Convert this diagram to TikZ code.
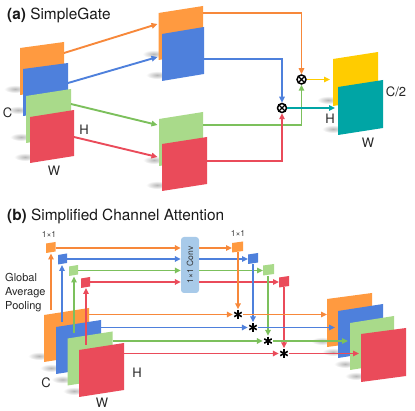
\documentclass[tikz,border=0pt]{standalone}
\usepackage{fontspec}
\setmainfont{TeX Gyre Heros}
\usetikzlibrary{arrows.meta,calc}
\definecolor{cOr}{HTML}{FF9A40}
\definecolor{cOrL}{HTML}{F7883A}
\definecolor{cBl}{HTML}{4E80DC}
\definecolor{cGr}{HTML}{A9DA8A}
\definecolor{cGrL}{HTML}{7CC05C}
\definecolor{cRd}{HTML}{EA4B5A}
\definecolor{cYe}{HTML}{FFCC00}
\definecolor{cTe}{HTML}{00A5A5}
\definecolor{cCv}{HTML}{A8CAE9}
\newcommand\SHd[6]{\shade[inner color=black!28,outer color=white] (#1-5,#2+#4-6) ellipse [x radius=11pt,y radius=4pt];}
\newcommand\FPl[6]{\fill[#6] (#1,#2) -- ++(#3,-#5) -- ++(0,#4) -- ++(-#3,#5) -- cycle;}
\newcommand\allplanes{%
 \PLx{20}{48}{44}{47}{6}{cOr}
 \PLx{23}{69}{45}{47}{6}{cBl}
 \PLx{26}{96}{45}{47}{7}{cGr}
 \PLx{30}{117}{44}{46}{7}{cRd}
 \PLx{158.5}{13}{44.5}{47}{7}{cOr}
 \PLx{162}{34}{42}{47}{7}{cBl}
 \PLx{159}{119}{44}{47}{7}{cGr}
 \PLx{162}{144}{45}{47}{7}{cRd}
 \PLx{333}{59}{45}{47}{7}{cYe}
 \PLx{338}{87}{45}{48}{7}{cTe}
 \PLx{44}{315}{45}{47}{7}{cOr}
 \PLx{56}{327}{45}{47}{7}{cBl}
 \PLx{67.5}{338.5}{45}{47}{7}{cGr}
 \PLx{79}{350}{45}{47}{7}{cRd}
 \PLx{327}{299}{45}{48}{6}{cOr}
 \PLx{338}{311}{45}{47}{7}{cBl}
 \PLx{350}{323}{44}{47}{7}{cGr}
 \PLx{361}{334}{45}{48}{6}{cRd}
}
\begin{document}
\begin{tikzpicture}[x=1pt,y=-1pt,
  ln/.style={line width=1.9pt},
  ar/.style={ln,-{Triangle[length=6pt,width=5.5pt]}},
  lab/.style={font=\fontsize{13}{15}\selectfont,text=black!85,inner sep=0pt},
  ttl/.style={font=\fontsize{15.4}{18}\selectfont,anchor=base west,inner sep=0pt,text=black!90},
  small/.style={font=\fontsize{8.5}{10}\selectfont,text=black!75,inner sep=0pt},
  gap/.style={font=\fontsize{11}{13}\selectfont,anchor=base west,inner sep=0pt,text=black!85},
  mul/.style={circle,draw=black,line width=1.5pt,minimum size=9pt,inner sep=0pt,fill=white,
    path picture={\draw[line width=1.3pt] (path picture bounding box.north west)--(path picture bounding box.south east)
      (path picture bounding box.north east)--(path picture bounding box.south west);}},
  ast/.style={circle,minimum size=10pt,inner sep=0pt,
    path picture={\foreach \a in {90,30,150}{\draw[line width=1.6pt,black] ($(path picture bounding box.center)+(\a:4.3pt)$) -- ($(path picture bounding box.center)+(\a+180:4.3pt)$);}}},
  convbox/.style={fill=cCv,rounded corners=3pt,rotate=90,minimum width=56pt,minimum height=18pt,inner sep=0pt,font=\fontsize{8.5}{10}\selectfont,text=black!80}
]
\useasboundingbox (0,0) rectangle (415,411);
% shadows then planes
\let\PLx\SHd \allplanes
\let\PLx\FPl \allplanes
% small squares
\FPl{46}{243.5}{9.5}{9.5}{1.5}{cOr}
\FPl{58}{255}{9}{9.5}{1.5}{cBl}
\FPl{69}{266.5}{9}{9.5}{1.5}{cGr}
\FPl{81}{278.5}{9}{9.5}{1.5}{cRd}
\FPl{232}{243}{11}{9.5}{1.5}{cOr}
\FPl{248}{254.5}{10}{9.5}{1.5}{cBl}
\FPl{263}{265.5}{11}{10}{1.5}{cGr}
\FPl{279}{277.5}{10}{10}{1.5}{cRd}

% titles
\node[ttl] (ta) at (7,20) {\textbf{(a)} SimpleGate};
\node[ttl] (tb) at (7,221) {\textbf{(b)} Simplified Channel Attention};

% ---------- (a) ----------
\coordinate (aO) at (64,53);  \coordinate (aB) at (68,83);
\coordinate (aG) at (71,104); \coordinate (aR) at (74,137);
\coordinate (mO) at (157.5,24); \coordinate (mB) at (157.5,57);
\coordinate (mG) at (157.5,125); \coordinate (mR) at (157.5,157);
\draw[ar,cOrL] (aO) -- (mO);
\draw[ar,cBl] (aB) -- (mB);
\draw[ar,cGrL] (aG) -- (mG);
\draw[ar,cRd] (aR) -- (mR);
\node[mul] (m1) at (301.5,79.5) {};
\node[mul] (m2) at (282,108) {};
\coordinate (eO) at (203,13);  \coordinate (eB) at (204,59);
\coordinate (eG) at (203,125); \coordinate (eR) at (207,161);
\draw[ar,cOrL] (eO) -| (m1.north);
\draw[ar,cBl] (eB) -| (m2.north);
\draw[ar,cGrL] (eG) -| (m1.south);
\draw[ar,cRd] (eR) -| (m2.south);
\coordinate (oY) at (330,79.5); \coordinate (oT) at (335,108);
\draw[ar,cYe] (m1.east) -- (oY);
\draw[ar,cTe] (m2.east) -- (oT);
\node[lab] (lc1) at (7.5,113) {C};
\node[lab] (lh1) at (84,130) {H};
\node[lab] (lw1) at (54,171) {W};
\node[lab] (lc2) at (396,92) {C/2};
\node[lab] (lh2) at (330,119) {H};
\node[lab] (lw2) at (368,143) {W};

% ---------- (b) ----------
\node[gap] (g1) at (5,282) {Global};
\node[gap] (g2) at (5,296) {Average};
\node[gap] (g3) at (5,310) {Pooling};
\node[small] (s1) at (49,234) {1×1};
\node[small] (s2) at (238,233.5) {1×1};
\node[convbox] (conv) at (190,265) {1×1 Conv};
% GAP arrows
\draw[ar,cOrL] (51,310) -- (51,253.5);
\draw[ar,cBl] (62,322) -- (62,265);
\draw[ar,cGrL] (74,333) -- (74,276.5);
\draw[ar,cRd] (86,345) -- (86,288);
% to conv and from conv (rotated node: north = left side, south = right side)
\coordinate (q1) at (55.5,248); \coordinate (q2) at (67,259);
\coordinate (q3) at (78,270.5); \coordinate (q4) at (90,282);
\draw[ar,cOrL] (q1) -- (q1 -| conv.north);
\draw[ar,cBl] (q2) -- (q2 -| conv.north);
\draw[ar,cGrL] (q3) -- (q3 -| conv.north);
\draw[ar,cRd] (q4) -- (q4 -| conv.north);
\coordinate (r1) at (232,248); \coordinate (r2) at (248,259);
\coordinate (r3) at (263,270.5); \coordinate (r4) at (279,282);
\draw[ar,cOrL] (q1 -| conv.south) -- (r1);
\draw[ar,cBl] (q2 -| conv.south) -- (r2);
\draw[ar,cGrL] (q3 -| conv.south) -- (r3);
\draw[ar,cRd] (q4 -| conv.south) -- (r4);
% asterisks
\node[ast] (x1) at (238,314.5) {};
\node[ast] (x2) at (253,327.5) {};
\node[ast] (x3) at (268,341) {};
\node[ast] (x4) at (284,353.5) {};
\draw[ar,cOrL] (238,252.5) -- (x1.north);
\draw[ar,cBl] (253,264) -- (x2.north);
\draw[ar,cGrL] (268,276) -- (x3.north);
\draw[ar,cRd] (284,287.5) -- (x4.north);
\coordinate (p1) at (89,314.5); \coordinate (p2) at (101,327.5);
\coordinate (p3) at (112.5,341); \coordinate (p4) at (124,353.5);
\draw[ar,cOrL] (p1) -- (x1.west);
\draw[ar,cBl] (p2) -- (x2.west);
\draw[ar,cGrL] (p3) -- (x3.west);
\draw[ar,cRd] (p4) -- (x4.west);
\coordinate (t1) at (327,314.5); \coordinate (t2) at (335,327.5);
\coordinate (t3) at (348,341); \coordinate (t4) at (359,353.5);
\draw[ar,cOrL] (x1.east) -- (t1);
\draw[ar,cBl] (x2.east) -- (t2);
\draw[ar,cGrL] (x3.east) -- (t3);
\draw[ar,cRd] (x4.east) -- (t4);
\node[lab] (lc3) at (46,383) {C};
\node[lab] (lh3) at (137,373) {H};
\node[lab] (lw3) at (102,403) {W};
\end{tikzpicture}
\end{document}
